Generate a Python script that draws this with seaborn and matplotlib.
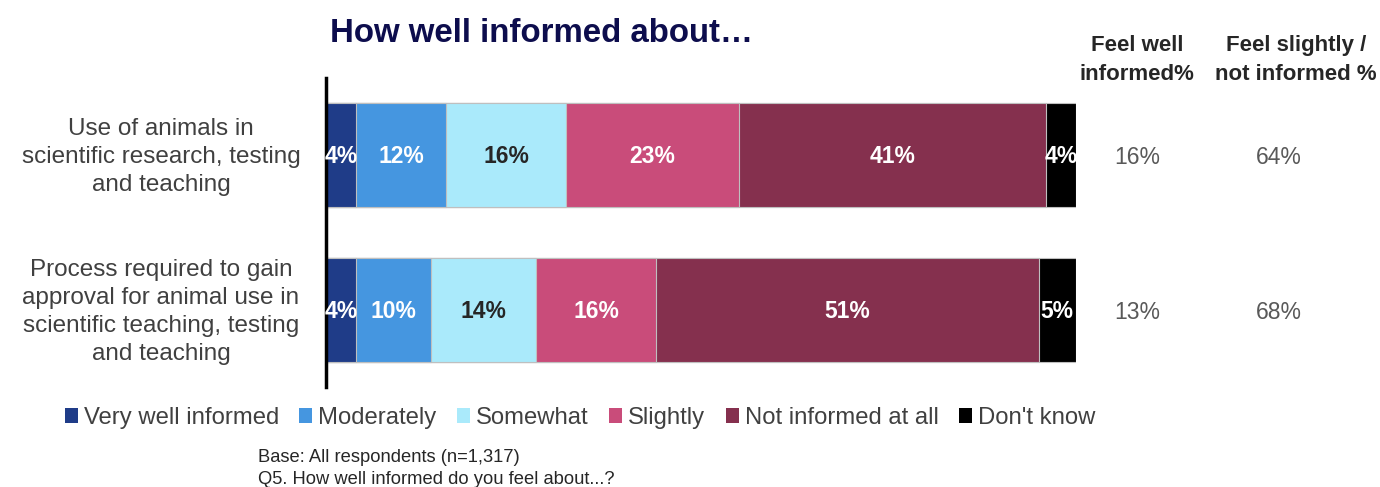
import numpy as np
import pandas as pd
import matplotlib
matplotlib.use("Agg")
import matplotlib.pyplot as plt
import matplotlib.transforms as mtransforms
from matplotlib.patches import Patch
import seaborn as sns

# Survey items
categories = [
    "Use of animals in\nscientific research, testing\nand teaching",
    "Process required to gain\napproval for animal use in\nscientific teaching, testing\nand teaching",
]
levels = ["Very well informed", "Moderately", "Somewhat", "Slightly",
          "Not informed at all", "Don't know"]

very_well = [4, 4]
moderately = [12, 10]
somewhat = [16, 14]
slightly = [23, 16]
not_at_all = [41, 51]
dont_know = [4, 5]

feel_well = [16, 13]
feel_not = [64, 68]

colors = ["#1F3C88", "#4596E0", "#AAEAFB", "#C94C7A", "#85304E", "#000000"]
label_colors = ["white", "white", "#262626", "white", "white", "white"]

series = [very_well, moderately, somewhat, slightly, not_at_all, dont_know]

sns.set_theme(style="white")
plt.rcParams["font.family"] = ["Liberation Sans", "DejaVu Sans"]

fig = plt.figure(figsize=(13.8, 4.87), dpi=100)
ax = fig.add_axes([326 / 1380, 1 - 387 / 487, 750 / 1380, 309 / 487])

# Long-form table with cumulative right edges for stacking
rows = []
for i, cat in enumerate(categories):
    cum = 0
    for lvl, vals in zip(levels, series):
        cum += vals[i]
        rows.append({"item": cat, "level": lvl, "value": vals[i], "right": cum})
df = pd.DataFrame(rows)

# Draw from the outermost segment inward so shorter bars sit on top
for lvl, col in reversed(list(zip(levels, colors))):
    sub = df[df["level"] == lvl]
    sns.barplot(data=sub, x="right", y="item", order=categories, color=col,
                orient="h", width=0.672, edgecolor="#BFBFBF", linewidth=0.8,
                saturation=1, ax=ax)

# Segment value labels
for _, r in df.iterrows():
    i = categories.index(r["item"])
    k = levels.index(r["level"])
    x = r["right"] - r["value"] / 2
    ax.text(x, i + 0.012, f"{r['value']}%", ha="center", va="center",
            fontsize=16.5, fontweight="bold", color=label_colors[k])

ax.set_xlim(0, 100)
ax.set_ylim(1.497, -0.497)
ax.set_xlabel("")
ax.set_ylabel("")
ax.set_xticks([])
ax.set_yticks([])
for s in ["top", "right", "bottom"]:
    ax.spines[s].set_visible(False)
ax.spines["left"].set_color("black")
ax.spines["left"].set_linewidth(2.5)

# Item labels on the left
trans_left = mtransforms.blended_transform_factory(fig.transFigure, ax.transData)
for i, cat in enumerate(categories):
    ax.text(161 / 1380, i + 0.012, cat, transform=trans_left, ha="center",
            va="center", fontsize=17.5, color="#404040", linespacing=1.34)

# Summary columns on the right
for i in range(len(categories)):
    ax.text(1137 / 1380, i + 0.015, f"{feel_well[i]}%", transform=trans_left,
            ha="center", va="center", fontsize=16.5, color="#595959")
    ax.text(1279 / 1380, i + 0.015, f"{feel_not[i]}%", transform=trans_left,
            ha="center", va="center", fontsize=16.5, color="#595959")

fig.text(1137 / 1380, 1 - 60 / 487, "Feel well\ninformed%", ha="center",
         va="center", fontsize=16, fontweight="bold", color="#262626",
         linespacing=1.55)
fig.text(1296 / 1380, 1 - 60 / 487, "Feel slightly /\nnot informed %",
         ha="center", va="center", fontsize=16, fontweight="bold",
         color="#262626", linespacing=1.55)

fig.text(330 / 1380, 1 - 33 / 487, "How well informed about\u2026",
         ha="left", va="center", fontsize=23.8, fontweight="bold",
         color="#0D0D4D")

handles = [Patch(facecolor=c, edgecolor="none") for c in colors]
fig.legend(handles, levels, loc="center", bbox_to_anchor=(580 / 1380, 1 - 418 / 487),
           ncol=6, frameon=False, fontsize=17.2, handlelength=0.55,
           handleheight=0.55, handletextpad=0.25, columnspacing=0.85,
           labelcolor="#404040")

fig.text(258 / 1380, 1 - 457 / 487, "Base: All respondents (n=1,317)",
         ha="left", va="center", fontsize=13.2, color="#262626")
fig.text(258 / 1380, 1 - 479 / 487, "Q5. How well informed do you feel about...?",
         ha="left", va="center", fontsize=13.2, color="#262626")

fig.savefig("out.png", dpi=100)
